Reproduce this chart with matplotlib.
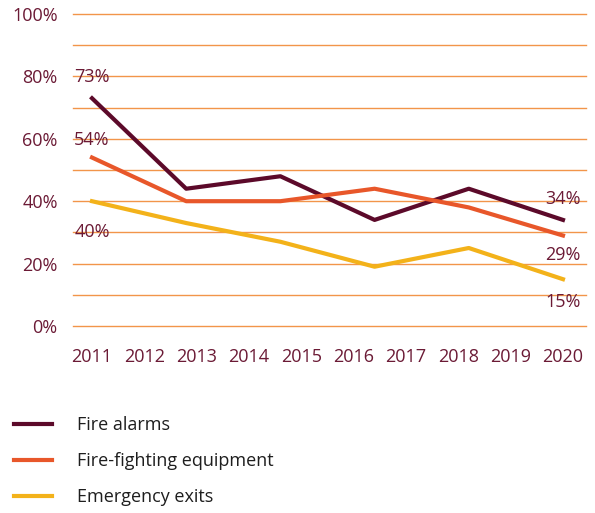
import matplotlib.pyplot as plt

# survey years (6 survey rounds spread over the 2011-2020 axis)
anos = [2011, 2012.8, 2014.6, 2016.4, 2018.2, 2020]
rotulos_x = ['2011', '2012', '2013', '2014', '2015', '2016', '2017', '2018', '2019', '2020']
alarmes = [73, 44, 48, 34, 44, 34]
equipamento = [54, 40, 40, 44, 38, 29]
saidas = [40, 33, 27, 19, 25, 15]

cor_texto = '#6b1a35'
plt.rcParams['font.family'] = ['Open Sans', 'DejaVu Sans']

fig = plt.figure(figsize=(5.95, 5.13), dpi=100)
ax = fig.add_axes([73/595, 1 - 326/513, 513/595, 312/513])

for y in range(0, 101, 10):
  ax.axhline(y, color='#f2954a', linewidth=1, zorder=1, clip_on=False)

ax.plot(anos, alarmes, color='#5c0a2a', linewidth=3, label='Fire alarms', zorder=3)
ax.plot(anos, equipamento, color='#e8572a', linewidth=3, label='Fire-fighting equipment', zorder=3)
ax.plot(anos, saidas, color='#f3b21a', linewidth=3, label='Emergency exits', zorder=3)

# value labels at start and end
ax.text(anos[0], 79.8, f'{alarmes[0]}%', ha='center', va='center', fontsize=13, color=cor_texto)
ax.text(anos[0], 59.6, f'{equipamento[0]}%', ha='center', va='center', fontsize=13, color=cor_texto)
ax.text(anos[0], 30, f'{saidas[0]}%', ha='center', va='center', fontsize=13, color=cor_texto)
ax.text(anos[-1], 40.7, f'{alarmes[-1]}%', ha='center', va='center', fontsize=13, color=cor_texto)
ax.text(anos[-1], 22.8, f'{equipamento[-1]}%', ha='center', va='center', fontsize=13, color=cor_texto)
ax.text(anos[-1], 7.7, f'{saidas[-1]}%', ha='center', va='center', fontsize=13, color=cor_texto)

ax.set_xlim(2010.637, 2020.44)
ax.set_ylim(0, 100)
ax.set_xticks(range(2011, 2021))
ax.set_xticklabels(rotulos_x)
ax.set_yticks(range(0, 101, 20))
ax.set_yticklabels([f'{v}%' for v in range(0, 101, 20)])
ax.tick_params(axis='both', length=0, labelsize=13, labelcolor=cor_texto)
ax.tick_params(axis='y', pad=11)
ax.tick_params(axis='x', pad=16)
for s in ax.spines.values():
  s.set_visible(False)

fig.legend(loc='upper left', bbox_to_anchor=(-2/595, 1 - 400/513), frameon=False,
           fontsize=13, handlelength=2.1, handletextpad=1.4, labelspacing=1.0,
           labelcolor='#1e1e1e')

plt.savefig('out.png', dpi=100)
plt.close()
